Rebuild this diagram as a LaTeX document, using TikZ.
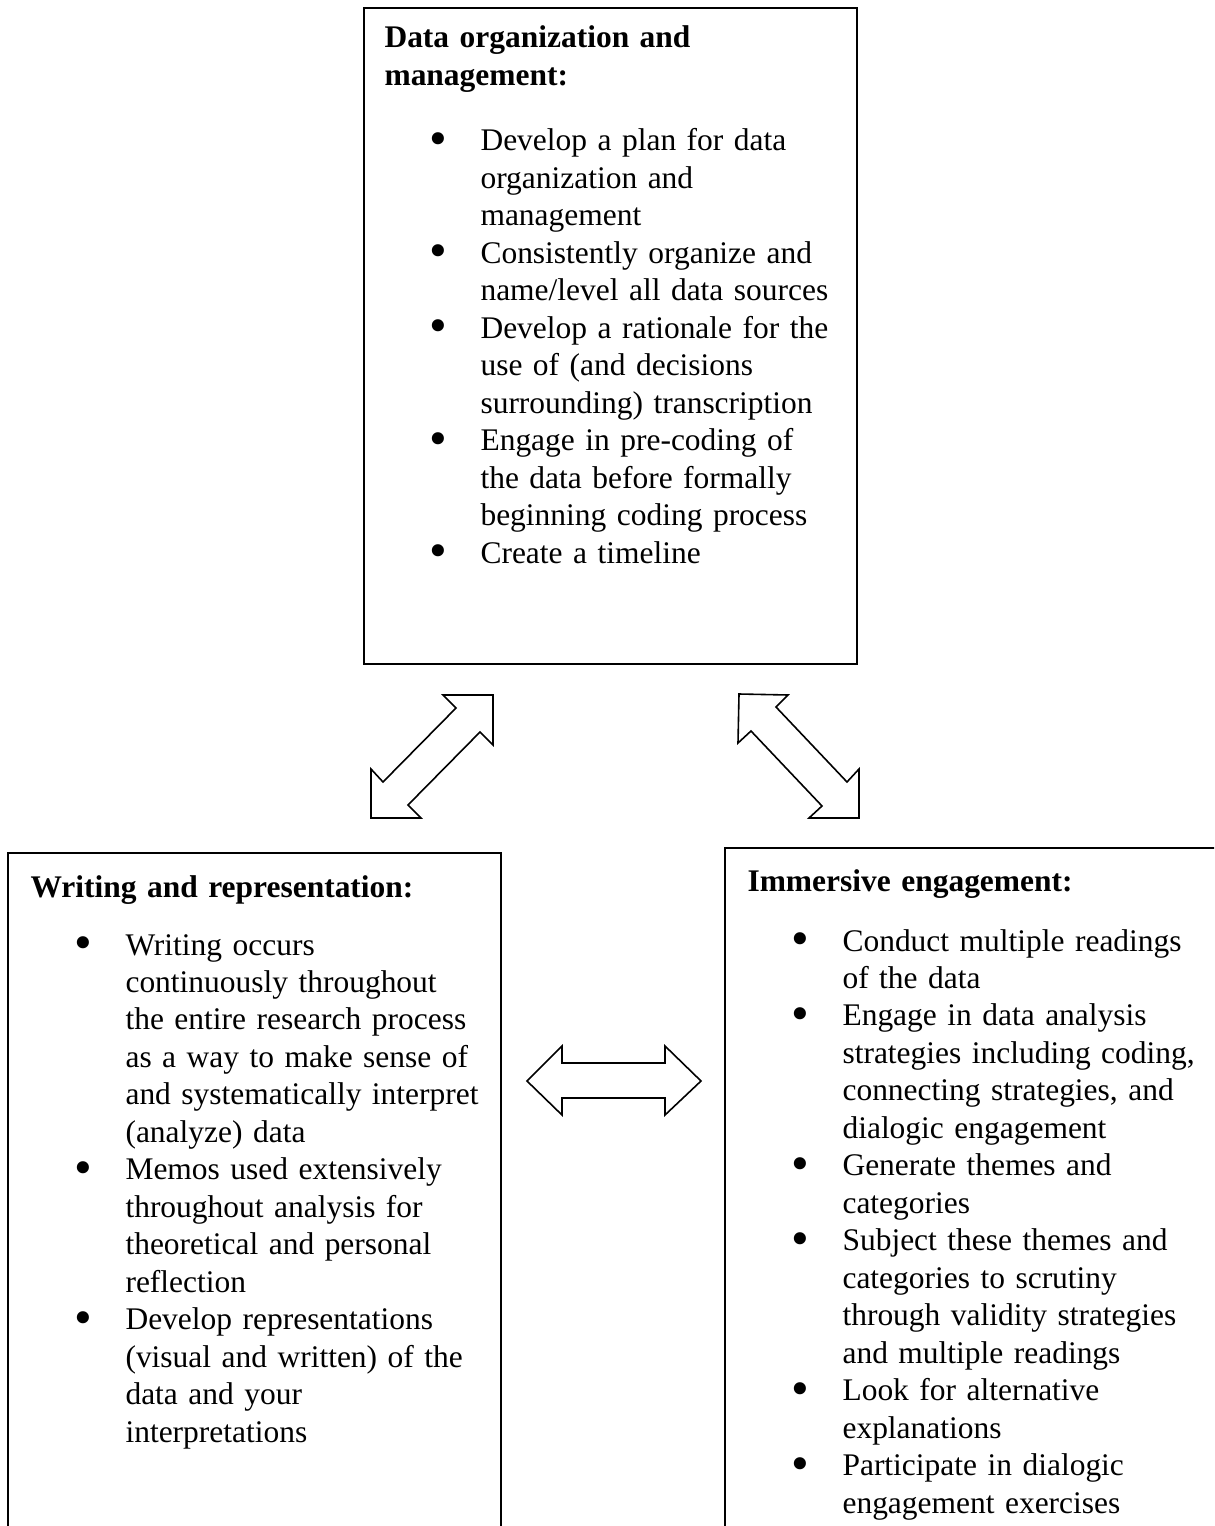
\documentclass[tikz,border=0pt]{standalone}
\usepackage{fontspec}
\setmainfont{Liberation Serif}
\newcommand\bul{\noindent\llap{\raisebox{-1.6pt}{\fontsize{19}{19}\selectfont\textbullet}\hspace{12.5pt}}}
\tikzset{
  frame/.style={draw=black, line width=0.8pt},
  blockarrow/.style={draw=black, line width=0.6pt, fill=white, line join=miter},
  ttl/.style={anchor=base west, inner sep=0pt, text width=#1, align=left,
    font=\fontsize{11.8}{14.06}\selectfont\bfseries},
  lst/.style={anchor=base west, inner sep=0pt, text width=#1, align=left,
    font=\fontsize{11.8}{14.06}\selectfont},
}
\begin{document}
\begin{tikzpicture}[x=0.375pt,y=-0.375pt]
\useasboundingbox (0,0) rectangle (1214,1526);
\clip (0,0) rectangle (1214,1526);
\fill[white] (0,0) rectangle (1214,1526);

% boxes
\draw[frame] (364,8) rectangle (857,664);
\draw[frame] (8,1560) -- (8,853) -- (501,853) -- (501,1560);
\draw[frame] (725,1560) -- (725,848) -- (1240,848);

% top box
\node[ttl=180pt] (toptitle) at (384,48) {Data organization and\\management:};
\node[lst=150pt] (toplist) at (480,151) {%
\bul Develop a plan for data\\organization and\\management\par
\bul Consistently organize and\\name/level all data sources\par
\bul Develop a rationale for the\\use of (and decisions\\surrounding) transcription\par
\bul Engage in pre-coding of\\the data before formally\\beginning coding process\par
\bul Create a timeline};

% left box
\node[ttl=180pt] (lefttitle) at (30,897) {Writing and representation:};
\node[lst=145pt] (leftlist) at (125,955) {%
\bul Writing occurs\\continuously throughout\\the entire research process\\as a way to make sense of\\and systematically interpret\\(analyze) data\par
\bul Memos used extensively\\throughout analysis for\\theoretical and personal\\reflection\par
\bul Develop representations\\(visual and written) of the\\data and your\\interpretations};

% right box
\node[ttl=180pt] (righttitle) at (747,891) {Immersive engagement:};
\node[lst=145pt] (rightlist) at (842,951) {%
\bul Conduct multiple readings\\of the data\par
\bul Engage in data analysis\\strategies including coding,\\connecting strategies, and\\dialogic engagement\par
\bul Generate themes and\\categories\par
\bul Subject these themes and\\categories to scrutiny\\through validity strategies\\and multiple readings\par
\bul Look for alternative\\explanations\par
\bul Participate in dialogic\\engagement exercises};

% block arrows
\draw[blockarrow] (493,695) -- (493,745) -- (480,732) -- (408,805) -- (421,818)
  -- (371,818) -- (371,769) -- (383,782) -- (456,708) -- (443,695) -- cycle;
\draw[blockarrow] (739,694) -- (788,695) -- (776,707) -- (847,782) -- (859,769)
  -- (859,818) -- (809,818) -- (822,806) -- (751,731) -- (738,743) -- cycle;
\draw[blockarrow] (527,1081) -- (562,1046) -- (562,1063) -- (665,1063) -- (665,1046)
  -- (701,1081) -- (665,1115) -- (665,1098) -- (562,1098) -- (562,1115) -- cycle;
\end{tikzpicture}
\end{document}
